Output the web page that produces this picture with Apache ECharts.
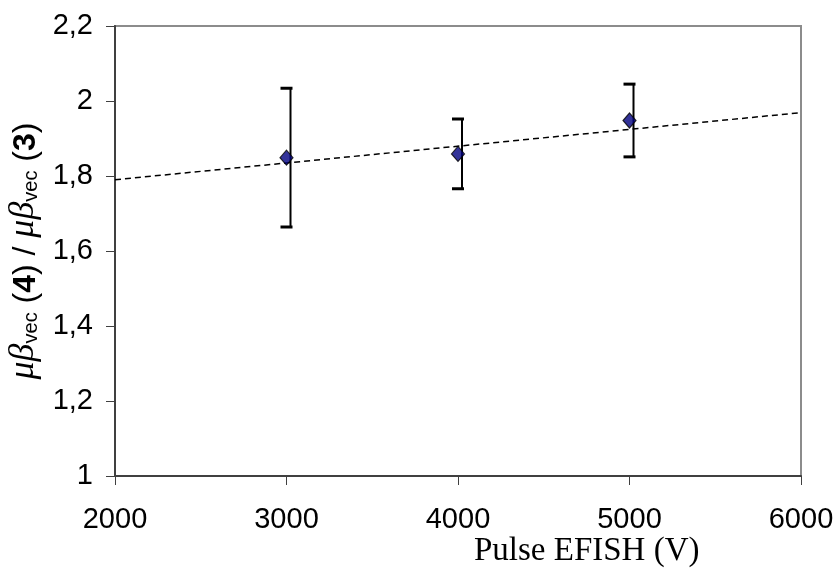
<!DOCTYPE html>
<html>
<head>
<meta charset="utf-8">
<script src="https://cdn.jsdelivr.net/npm/echarts@6/dist/echarts.min.js"></script>
<style>html,body{margin:0;padding:0;background:#fff}#c{width:836px;height:574px}</style>
</head>
<body>
<div id="c"></div>
<script>
var voltages = [3000, 4000, 5000];
var ratios = [1.849, 1.859, 1.948];
var errLow = [1.664, 1.766, 1.851];
var errHigh = [2.034, 1.952, 2.045];
var trendX = [2000, 6000];
var trendY = [1.790, 1.969];
var xTicks = [2000, 3000, 4000, 5000, 6000];
var yTicks = [1, 1.2, 1.4, 1.6, 1.8, 2, 2.2];

var chart = echarts.init(document.getElementById('c'), null, {renderer: 'canvas'});
var fmtY = function (v) { return String(+v.toFixed(1)).replace('.', ','); };
var fmtX = function (v) { return String(Math.round(v)); };

chart.setOption({
  animation: false,
  backgroundColor: '#fff',
  title: {
    text: 'Pulse EFISH (V)',
    left: 469, top: 530,
    textStyle: {fontFamily: 'Liberation Serif', fontSize: 33, fontWeight: 'normal', color: '#000'}
  },
  grid: {left: 115, right: 35, top: 26, bottom: 98, containLabel: false, outerBoundsMode: 'none',
         show: true, borderColor: '#8c8c8c', borderWidth: 2},
  xAxis: {
    type: 'value', min: xTicks[0], max: xTicks[xTicks.length - 1], interval: 1000,
    axisLine: {show: true, lineStyle: {color: '#404040', width: 2}},
    axisTick: {show: true, inside: false, length: 9, lineStyle: {color: '#404040', width: 1}},
    splitLine: {show: false},
    axisLabel: {fontFamily: 'Liberation Sans', fontSize: 29, color: '#000', margin: 29, formatter: fmtX}
  },
  yAxis: {
    type: 'value', min: yTicks[0], max: yTicks[yTicks.length - 1], interval: 0.2,
    axisLine: {show: true, lineStyle: {color: '#404040', width: 2}},
    axisTick: {show: true, inside: false, length: 9, lineStyle: {color: '#404040', width: 1}},
    splitLine: {show: false},
    axisLabel: {fontFamily: 'Liberation Sans', fontSize: 29, color: '#000', margin: 22, formatter: fmtY},
    name: '{mb|μβ}{sub|vec}{p| (}{b|4}{p|) / }{mb|μβ}{sub|vec}{p| (}{b|3}{p|)}',
    nameLocation: 'middle', nameRotate: 90, nameGap: 72,
    nameTextStyle: {
      color: '#000',
      rich: {
        mb: {fontFamily: 'Liberation Serif', fontStyle: 'italic', fontSize: 36, color: '#000', verticalAlign: 'bottom', lineHeight: 38},
        sub: {fontFamily: 'Liberation Sans', fontSize: 20, color: '#000', verticalAlign: 'bottom', lineHeight: 26},
        p: {fontFamily: 'Liberation Sans', fontSize: 32, color: '#000', verticalAlign: 'bottom', lineHeight: 38},
        b: {fontFamily: 'Liberation Sans', fontSize: 32, fontWeight: 'bold', color: '#000', verticalAlign: 'bottom', lineHeight: 38}
      }
    }
  },
  series: [
    {
      type: 'line', data: trendX.map(function (x, i) { return [x, trendY[i]]; }),
      symbol: 'none', silent: true, z: 1,
      lineStyle: {color: '#000', width: 1.5, type: [6, 4]}
    },
    {
      type: 'custom', z: 2, silent: true,
      data: voltages.map(function (x, i) { return [x, errLow[i], errHigh[i]]; }),
      renderItem: function (params, api) {
        var lo = api.coord([api.value(0), api.value(1)]);
        var hi = api.coord([api.value(0), api.value(2)]);
        var hw = 6, off = 4;
        return {type: 'group', children: [
          {type: 'line', shape: {x1: lo[0] + off, y1: lo[1], x2: hi[0] + off, y2: hi[1]}, style: {stroke: '#000', lineWidth: 2}},
          {type: 'line', shape: {x1: lo[0] - hw, y1: lo[1], x2: lo[0] + hw, y2: lo[1]}, style: {stroke: '#000', lineWidth: 3}},
          {type: 'line', shape: {x1: hi[0] - hw, y1: hi[1], x2: hi[0] + hw, y2: hi[1]}, style: {stroke: '#000', lineWidth: 3}}
        ]};
      }
    },
    {
      type: 'scatter', z: 3, symbol: 'diamond', symbolSize: [13, 15],
      data: voltages.map(function (x, i) { return [x, ratios[i]]; }),
      itemStyle: {color: '#000080', borderColor: '#000', borderWidth: 1.2}
    }
  ]
});
</script>
</body>
</html>
